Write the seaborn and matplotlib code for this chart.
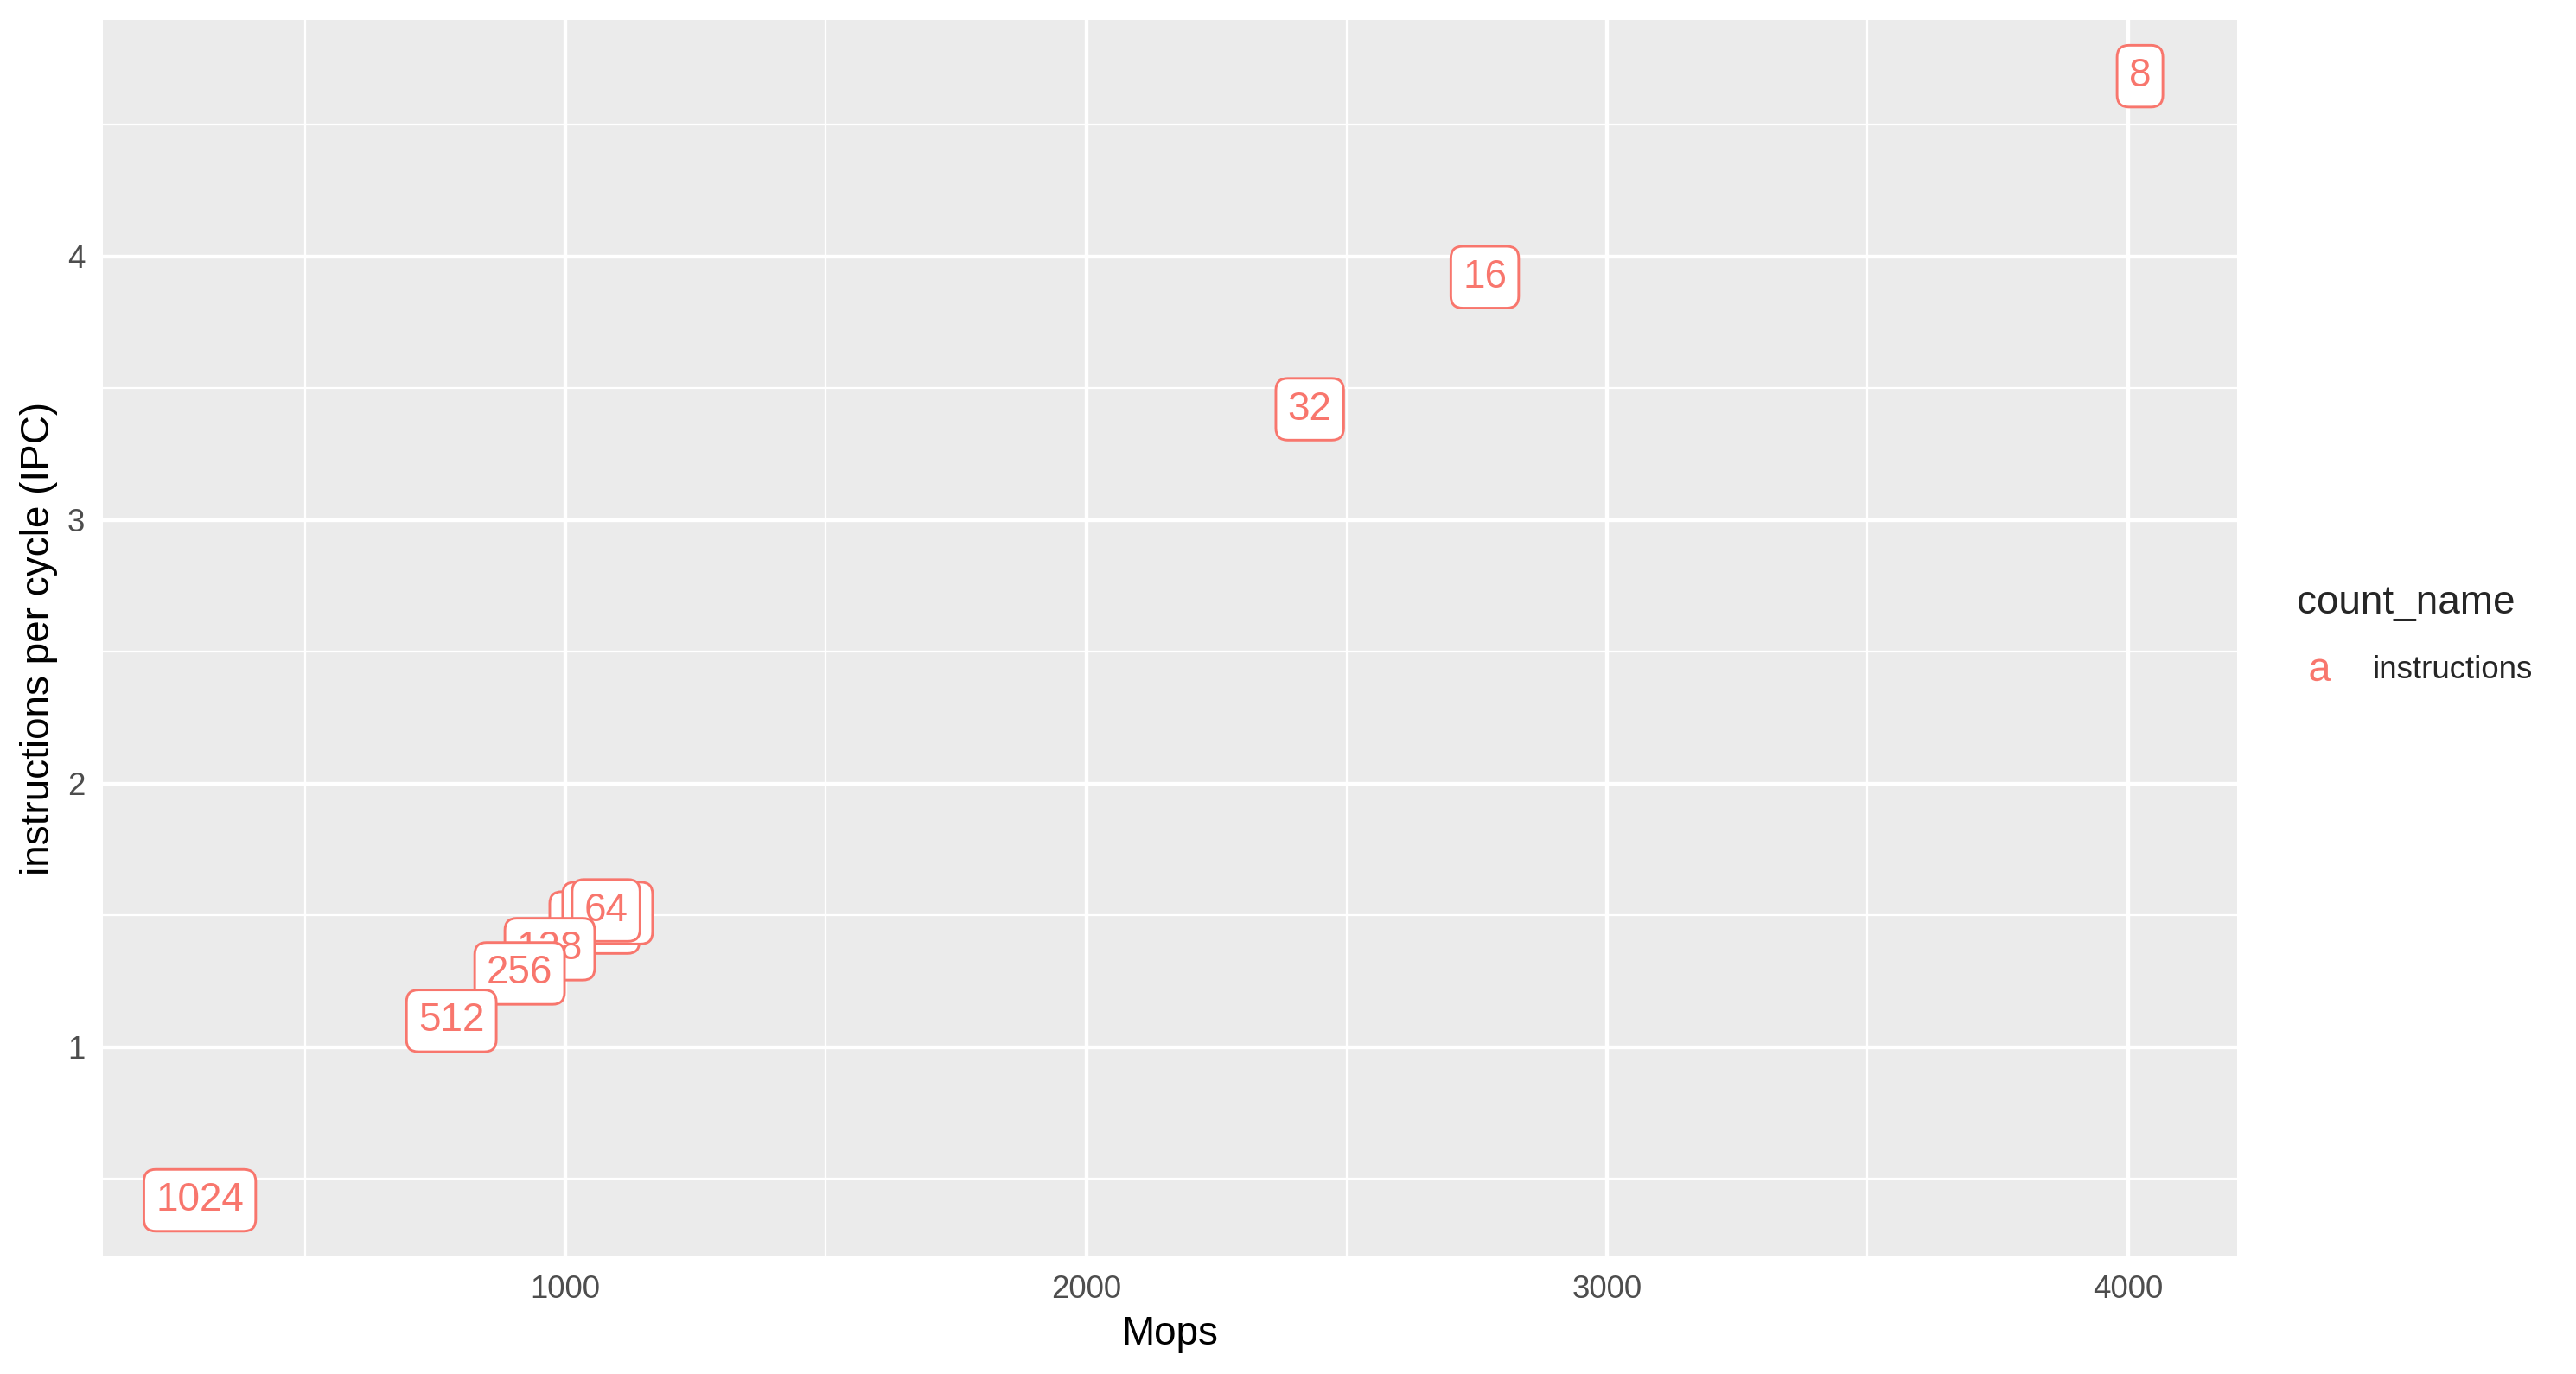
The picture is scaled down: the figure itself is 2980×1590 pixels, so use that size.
import pandas as pd
import matplotlib.pyplot as plt
import matplotlib.ticker as mticker
from matplotlib.markers import MarkerStyle
from matplotlib.transforms import Affine2D
import seaborn as sns

# Data
labels = ["192", "384", "8", "16", "32", "64", "128", "256", "512", "1024"]
mops = [1056, 1081, 4023, 2765, 2429, 1078, 970, 912, 781, 298]
ipc = [1.472, 1.508, 4.684, 3.921, 3.420, 1.518, 1.371, 1.279, 1.099, 0.418]
count_name = ["instructions"] * len(labels)

df = pd.DataFrame({"Mops": mops, "IPC": ipc, "label": labels, "count_name": count_name})

sns.set_style("darkgrid", {"axes.facecolor": "#EBEBEB", "grid.color": "white"})
plt.rcParams["font.family"] = ["Liberation Sans", "DejaVu Sans"]
plt.rcParams["mathtext.fontset"] = "custom"
plt.rcParams["mathtext.rm"] = "Liberation Sans"

red = "#F8766D"

fig = plt.figure(figsize=(2980 / 300, 1590 / 300), dpi=300)
ax = fig.add_axes([0.0399, 0.0855, 0.8285, 0.9000])

# invisible points, only used to get the legend key ("a" like geom_label)
key = MarkerStyle(r"$\mathrm{a}$", transform=Affine2D().translate(0, -0.5))
sns.scatterplot(data=df, x="Mops", y="IPC", hue="count_name", palette=[red],
                marker=key, s=38, linewidth=0, ax=ax)
ax.collections[0].set_visible(False)

for lab, x, y in zip(df["label"], df["Mops"], df["IPC"]):
    ax.text(x, y, lab, color=red, fontsize=11, ha="center", va="center",
            bbox=dict(boxstyle="round,pad=0.3,rounding_size=0.3", fc="white",
                      ec=red, lw=0.7))

# ggplot style 5% expansion
xspan = df["Mops"].max() - df["Mops"].min()
yspan = df["IPC"].max() - df["IPC"].min()
ax.set_xlim(df["Mops"].min() - 0.05 * xspan, df["Mops"].max() + 0.05 * xspan)
ax.set_ylim(df["IPC"].min() - 0.05 * yspan, df["IPC"].max() + 0.05 * yspan)

ax.xaxis.set_major_locator(mticker.MultipleLocator(1000))
ax.xaxis.set_minor_locator(mticker.MultipleLocator(500))
ax.yaxis.set_major_locator(mticker.MultipleLocator(1))
ax.yaxis.set_minor_locator(mticker.MultipleLocator(0.5))
ax.grid(which="major", color="white", lw=1.05)
ax.grid(which="minor", color="white", lw=0.55)
for s in ax.spines.values():
    s.set_visible(False)

ax.tick_params(which="major", length=2.75, width=1.05, color="#333333",
               labelcolor="#4D4D4D", labelsize=8.8, pad=2.2)
ax.tick_params(which="minor", length=0)

ax.set_xlabel("Mops", fontsize=11, color="black", labelpad=3)
ax.set_ylabel("instructions per cycle (IPC)", fontsize=11, color="black", labelpad=2.5)

sns.move_legend(ax, "center left", bbox_to_anchor=(1.022, 0.497), frameon=False,
                title="count_name", fontsize=8.8, title_fontsize=11,
                handlelength=1.5, handleheight=2.6, handletextpad=0.9,
                borderaxespad=0)
leg = ax.get_legend()
leg._legend_box.align = "left"

plt.savefig("out.png", dpi=300)
